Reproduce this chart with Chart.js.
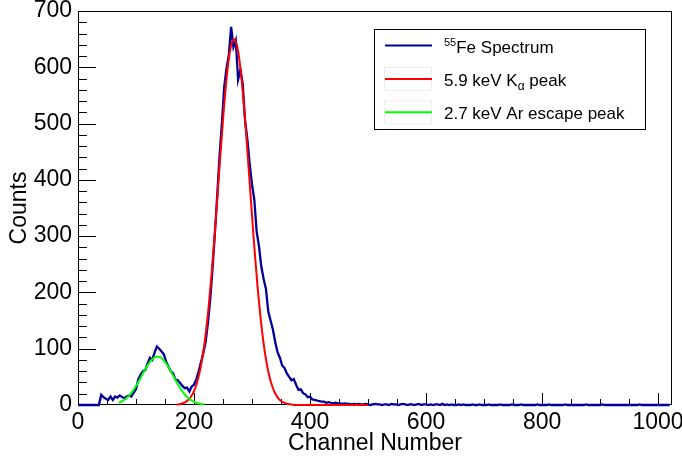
<!DOCTYPE html>
<html>
<head>
<meta charset="utf-8">
<script src="https://cdn.jsdelivr.net/npm/chart.js"></script>
<style>
  html, body { margin: 0; padding: 0; background: #fff; }
  #wrap { width: 682px; height: 461px; }
</style>
</head>
<body>
<div id="wrap"><canvas id="canvas" width="682" height="461"></canvas></div>
<script>
// 55Fe spectrum, 4-channel bins starting at channel 0
const binWidth = 4;
const spectrumCounts = [
  0, 0, 0, 0, 0, 0, 0, 0, 0, 0,
  18, 14, 11, 9, 15, 9, 15, 13, 17, 14,
  12, 15, 17, 15, 22, 28, 46, 54, 60, 62,
  74, 84, 80, 93, 104, 100, 95, 90, 77, 68,
  60, 56, 45, 44, 39, 34, 30, 31, 24, 33,
  36, 46, 60, 76, 92, 112, 146, 188, 244, 305,
  372, 442, 500, 565, 598, 622, 672, 636, 648, 578,
  596, 570, 505, 472, 428, 392, 364, 308, 282, 246,
  224, 206, 166, 150, 134, 112, 94, 84, 70, 66,
  56, 50, 44, 46, 36, 27, 28, 21, 19, 14,
  15, 10, 9, 8, 7, 6, 6, 4, 5, 4,
  3, 4, 3, 3, 2, 3, 2, 2, 1, 2,
  1, 2, 1, 1, 2, 1, 0, 1, 2, 1,
  1, 0, 1, 1, 0, 2, 1, 1, 0, 1,
  2, 1, 0, 1, 1, 0, 1, 2, 0, 1,
  1, 0, 1, 0, 1, 1, 0, 2, 0, 1,
  0, 1, 0, 0, 1, 0, 1, 0, 0, 0,
  1, 0, 0, 1, 0, 0, 0, 1, 0, 0,
  0, 0, 1, 0, 0, 0, 0, 1, 0, 0,
  0, 1, 0, 0, 0, 0, 0, 0, 1, 0,
  0, 0, 0, 1, 0, 0, 0, 0, 0, 0,
  1, 0, 0, 0, 0, 0, 0, 0, 0, 1,
  0, 0, 0, 0, 0, 0, 1, 0, 0, 0,
  0, 0, 0, 0, 0, 0, 0, 0, 0, 0,
  0, 0, 1, 0, 0, 0, 0, 0, 0, 0,
  0, 0, 0, 0, 0, 0
];

// 5.9 keV K-alpha fit curve
const kAlphaChannels = [170, 175, 180, 185, 190, 195, 200, 205, 210, 215, 220, 225, 230, 235, 240, 245, 250, 255, 260, 265, 270, 275, 280, 285, 290, 295, 300, 305, 310, 315, 320, 325, 330, 335, 340, 345, 350, 355, 360, 365, 370, 380, 400, 450, 500];
const kAlphaCounts   = [0.8, 1.5, 2.8, 5.1, 9.0, 15.2, 24.8, 39.2, 59.7, 88, 125, 172, 229, 294, 365, 438, 507, 568, 615, 643, 650, 634, 598, 545, 480, 409, 336, 267, 205, 152, 109, 75.6, 50.6, 32.8, 20.5, 12.4, 7.2, 4.1, 2.2, 1.2, 0.6, 0.15, 0, 0, 0];

// 2.7 keV argon escape peak fit curve
const escapeChannels = [70, 75, 80, 85, 90, 95, 100, 105, 110, 115, 120, 125, 130, 135, 140, 145, 150, 155, 160, 165, 170, 175, 180, 185, 190, 195, 200, 205, 210, 215, 218];
const escapeCounts   = [4.0, 6.2, 9.3, 13.5, 18.9, 25.6, 33.6, 42.6, 52.2, 61.7, 70.5, 77.9, 83.2, 85.8, 85.5, 82.3, 76.6, 68.9, 59.8, 50.2, 40.7, 32.0, 24.2, 17.7, 12.5, 8.6, 5.6, 3.6, 2.2, 1.3, 1.0];

const xTickValues = [0, 200, 400, 600, 800, 1000];
const yTickValues = [0, 100, 200, 300, 400, 500, 600, 700];

const xMinorStep = 50;
const yMinorStep = 20;

const spectrumPoints = spectrumCounts.map((c, i) => ({ x: i * binWidth, y: c }));
const kAlphaPoints = kAlphaChannels.map((ch, i) => ({ x: ch, y: kAlphaCounts[i] }));
const escapePoints = escapeChannels.map((ch, i) => ({ x: ch, y: escapeCounts[i] }));

const legendItems = [
  { color: '#000099', box: false, parts: [{ t: '55', sup: true }, { t: 'Fe Spectrum' }] },
  { color: '#ff0000', box: true, parts: [{ t: '5.9 keV K' }, { t: '\u03b1', sub: true }, { t: ' peak' }] },
  { color: '#00ff00', box: true, parts: [{ t: '2.7 keV Ar escape peak' }] }
];

const FONT = "'Liberation Sans', Arial, Helvetica, sans-serif";
Chart.defaults.font.family = FONT;
Chart.defaults.color = '#000';

// frame and inward pointing tick marks, ROOT style
const frameTicks = {
  id: 'frameTicks',
  beforeDatasetsDraw(chart) {
    const { ctx, chartArea: a, scales: { x, y } } = chart;
    ctx.save();
    ctx.strokeStyle = '#000';
    ctx.lineWidth = 1;
    ctx.beginPath();
    for (let v = x.min; v <= x.max; v += xMinorStep) {
      const px = Math.round(x.getPixelForValue(v)) + 0.5;
      const len = xTickValues.includes(v) ? 12 : 6;
      ctx.moveTo(px, a.bottom);
      ctx.lineTo(px, a.bottom - len);
    }
    for (let v = y.min; v <= y.max; v += yMinorStep) {
      const py = Math.round(y.getPixelForValue(v)) + 0.5;
      const len = yTickValues.includes(v) ? 18 : 9;
      ctx.moveTo(a.left, py);
      ctx.lineTo(a.left + len, py);
    }
    ctx.stroke();
    ctx.strokeRect(Math.round(a.left) + 0.5, Math.round(a.top) + 0.5,
                   Math.round(a.width) - 1, Math.round(a.height) - 1);
    ctx.restore();
  }
};

const legendBox = {
  id: 'legendBox',
  afterDraw(chart) {
    const ctx = chart.ctx;
    const left = 374, top = 29, w = 271, h = 100;
    ctx.save();
    ctx.fillStyle = '#fff';
    ctx.fillRect(left, top, w, h);
    ctx.strokeStyle = '#000';
    ctx.lineWidth = 1;
    ctx.strokeRect(left + 0.5, top + 0.5, w, h);
    legendItems.forEach((item, i) => {
      const cy = 45.5 + i * 33.4;
      if (item.box) {
        ctx.strokeStyle = 'rgba(0,0,0,0.07)';
        ctx.strokeRect(384.5, cy - 11.5, 47, 23);
      }
      ctx.strokeStyle = item.color;
      ctx.lineWidth = 2;
      ctx.beginPath();
      ctx.moveTo(385, cy);
      ctx.lineTo(432, cy);
      ctx.stroke();
      ctx.lineWidth = 1;
      let tx = 444;
      const base = cy + 7;
      ctx.fillStyle = '#000';
      ctx.textBaseline = 'alphabetic';
      ctx.textAlign = 'left';
      item.parts.forEach(p => {
        if (p.sup) {
          ctx.font = '11px ' + FONT;
          ctx.fillText(p.t, tx, base - 7);
        } else if (p.sub) {
          ctx.font = '12px ' + FONT;
          ctx.fillText(p.t, tx, base + 4);
        } else {
          ctx.font = '17px ' + FONT;
          ctx.fillText(p.t, tx, base);
        }
        tx += ctx.measureText(p.t).width;
      });
    });
    ctx.restore();
  }
};

new Chart(document.getElementById('canvas'), {
  type: 'line',
  data: {
    datasets: [
      {
        label: '55Fe Spectrum',
        data: spectrumPoints,
        borderColor: '#000099',
        borderWidth: 2.3,
        pointRadius: 0,
        tension: 0,
        clip: 3,
        order: 3
      },
      {
        label: '5.9 keV K\u03b1 peak',
        data: kAlphaPoints,
        borderColor: '#ff0000',
        borderWidth: 2,
        pointRadius: 0,
        cubicInterpolationMode: 'monotone',
        clip: 3,
        order: 2
      },
      {
        label: '2.7 keV Ar escape peak',
        data: escapePoints,
        borderColor: '#00ff00',
        borderWidth: 2,
        pointRadius: 0,
        cubicInterpolationMode: 'monotone',
        clip: 3,
        order: 1
      }
    ]
  },
  options: {
    responsive: false,
    devicePixelRatio: 1,
    animation: false,
    layout: { padding: { top: 11, right: 10, left: 0, bottom: 0 } },
    plugins: {
      legend: { display: false },
      tooltip: { enabled: false }
    },
    scales: {
      x: {
        type: 'linear',
        min: 0,
        max: 1024,
        grid: { display: false, drawTicks: false },
        border: { display: false },
        ticks: {
          padding: 4,
          autoSkip: false,
          maxRotation: 0,
          includeBounds: false,
          font: { size: 23 },
          callback: v => String(v)
        },
        title: {
          display: true,
          text: 'Channel Number',
          font: { size: 23 },
          padding: { top: 0, bottom: 4 }
        },
        afterBuildTicks(s) { s.ticks = xTickValues.map(v => ({ value: v })); },
        afterFit(s) { s.height = 56; s.paddingLeft = 0; s.paddingRight = 0; }
      },
      y: {
        min: 0,
        max: 700,
        grid: { display: false, drawTicks: false },
        border: { display: false },
        ticks: {
          padding: 6,
          autoSkip: false,
          includeBounds: false,
          font: { size: 23 },
          callback: v => String(v)
        },
        title: {
          display: true,
          text: 'Counts',
          font: { size: 23 },
          padding: { top: 6, bottom: 0 }
        },
        afterBuildTicks(s) { s.ticks = yTickValues.map(v => ({ value: v })); },
        afterFit(s) { s.width = 78; s.paddingTop = 0; s.paddingBottom = 0; }
      }
    }
  },
  plugins: [frameTicks, legendBox]
});
</script>
</body>
</html>
